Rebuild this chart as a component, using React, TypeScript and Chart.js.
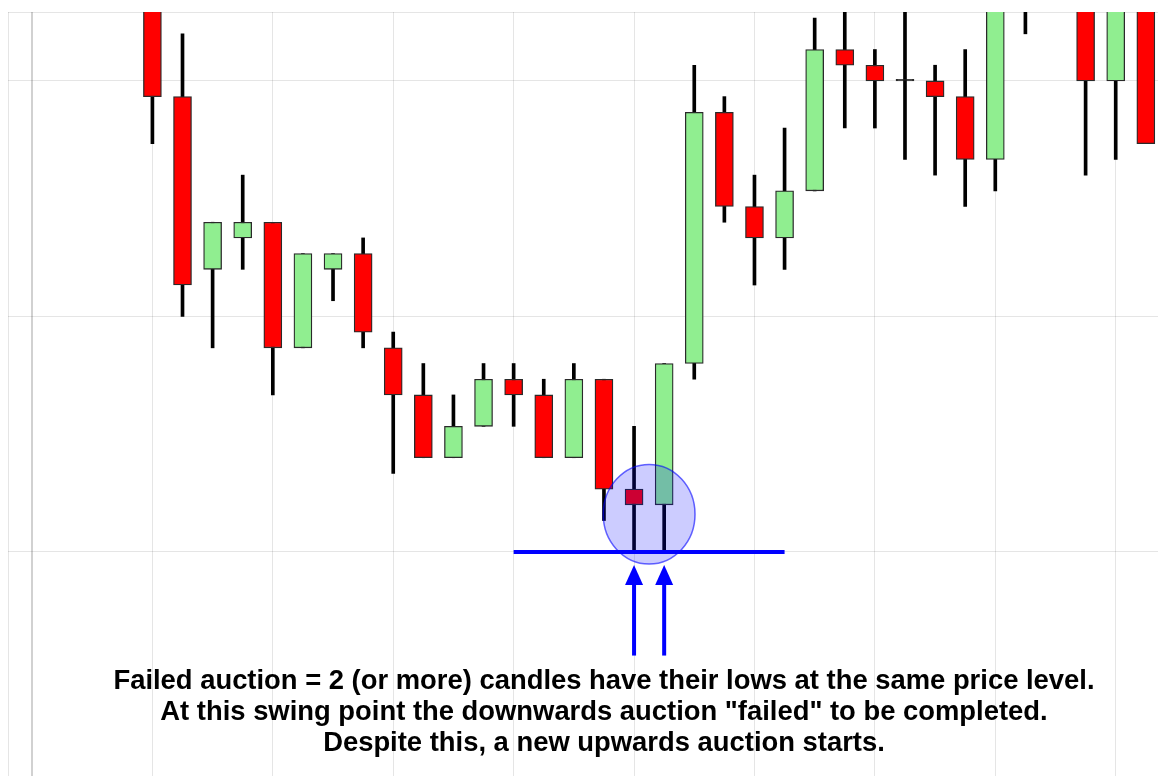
import React, { useEffect, useRef } from "react";
import { Chart, registerables } from "chart.js";

Chart.register(...registerables);

// ---- data (candle index, OHLC) ----
const FIRST_INDEX = 4;
const OPEN = [137, 129, 118, 120, 121, 113, 118, 119, 113, 110, 106, 108, 111, 110, 106, 111, 104, 103, 112, 128, 122, 120, 123, 132, 131, 130, 130, 129, 125, 136, 137, 137, 130, 137];
const HIGH = [138, 133, 121, 124, 121, 119, 119, 120, 114, 112, 110, 112, 112, 111, 112, 111, 108, 112, 131, 129, 124, 127, 134, 136, 132, 136, 131, 132, 138, 138, 139, 138, 138, 138];
const LOW = [126, 115, 113, 118, 110, 113, 116, 113, 105, 106, 106, 108, 108, 106, 106, 102, 100, 100, 111, 121, 117, 118, 123, 127, 127, 125, 124, 122, 123, 133, 135, 124, 125, 126];
const CLOSE = [129, 117, 121, 121, 113, 119, 119, 114, 110, 106, 108, 111, 110, 106, 111, 104, 103, 112, 128, 122, 120, 123, 132, 131, 130, 130, 129, 125, 137, 137, 136, 130, 137, 126];

// grid ticks
const X_GRID = [0, 4, 8, 12, 16, 20, 24, 28, 32, 36];
const Y_GRID = [100, 115, 130];

// visible window
const X_MIN = -0.797;
const X_MAX = 38.8;
const Y_MIN = 84.2;
const Y_MAX = 134.39;

// annotation
const SUPPORT_LEVEL = 100;
const SUPPORT_FROM = 16;
const SUPPORT_TO = 25;
const CIRCLE_CENTER = { x: 20.5, y: 102.4 };
const CIRCLE_RADIUS = { x: 1.525, y: 3.17 };
const ARROW_X = [20, 21];
const ARROW_TIP = 99.17;
const ARROW_HEAD_BASE = 97.9;
const ARROW_TAIL = 93.4;
const TEXT_X = 19;
const TEXT_FIRST_BASELINE = 91.27;
const TEXT_LINES = [
  "Failed auction = 2 (or more) candles have their lows at the same price level.",
  "At this swing point the downwards auction \"failed\" to be completed.",
  "Despite this, a new upwards auction starts.",
];

const RED = "#ff0000";
const GREEN = "#90ee90";
const BLUE = "#0000ff";

const annotationPlugin = {
  id: "failedAuction",
  afterDatasetsDraw(chart: any) {
    const { ctx } = chart;
    const xs = chart.scales.x;
    const ys = chart.scales.y;
    ctx.save();
    // support line
    ctx.strokeStyle = BLUE;
    ctx.lineWidth = 4;
    ctx.beginPath();
    const ly = ys.getPixelForValue(SUPPORT_LEVEL);
    ctx.moveTo(xs.getPixelForValue(SUPPORT_FROM), ly);
    ctx.lineTo(xs.getPixelForValue(SUPPORT_TO), ly);
    ctx.stroke();
    // circle
    const cx = xs.getPixelForValue(CIRCLE_CENTER.x);
    const cy = ys.getPixelForValue(CIRCLE_CENTER.y);
    const rx = Math.abs(xs.getPixelForValue(CIRCLE_CENTER.x + CIRCLE_RADIUS.x) - cx);
    const ry = Math.abs(ys.getPixelForValue(CIRCLE_CENTER.y + CIRCLE_RADIUS.y) - cy);
    ctx.beginPath();
    ctx.ellipse(cx, cy, rx, ry, 0, 0, Math.PI * 2);
    ctx.fillStyle = "rgba(0,0,255,0.2)";
    ctx.fill();
    ctx.strokeStyle = "rgba(0,0,255,0.6)";
    ctx.lineWidth = 1.5;
    ctx.stroke();
    // arrows
    ctx.fillStyle = BLUE;
    ctx.strokeStyle = BLUE;
    for (const ax of ARROW_X) {
      const px = xs.getPixelForValue(ax);
      const tip = ys.getPixelForValue(ARROW_TIP);
      const base = ys.getPixelForValue(ARROW_HEAD_BASE);
      const tail = ys.getPixelForValue(ARROW_TAIL);
      ctx.lineWidth = 4;
      ctx.beginPath();
      ctx.moveTo(px, base - 1);
      ctx.lineTo(px, tail);
      ctx.stroke();
      ctx.beginPath();
      ctx.moveTo(px, tip);
      ctx.lineTo(px - 9, base);
      ctx.lineTo(px + 9, base);
      ctx.closePath();
      ctx.fill();
    }
    // text
    ctx.fillStyle = "#000";
    ctx.font = 'bold 27.4px "Liberation Sans", Arial, sans-serif';
    ctx.textAlign = "center";
    ctx.textBaseline = "alphabetic";
    const tx = xs.getPixelForValue(TEXT_X);
    const ty = ys.getPixelForValue(TEXT_FIRST_BASELINE);
    TEXT_LINES.forEach((line, i) => ctx.fillText(line, tx, ty + i * 31));
    ctx.restore();
  },
};

export default function App() {
  const ref = useRef<HTMLCanvasElement | null>(null);
  useEffect(() => {
    if (!ref.current) return;
    const bodies = OPEN.map((o, i) => ({ x: i + FIRST_INDEX, y: [o, CLOSE[i]] }));
    const wicks = OPEN.map((_, i) => ({ x: i + FIRST_INDEX, y: [LOW[i], HIGH[i]] }));
    const bodyColors = OPEN.map((o, i) => (CLOSE[i] > o ? GREEN : CLOSE[i] < o ? RED : "#111"));
    const chart = new Chart(ref.current, {
      type: "bar",
      data: {
        datasets: [
          {
            label: "body",
            data: bodies as any,
            backgroundColor: bodyColors,
            borderColor: "#2a2a2a",
            borderWidth: 1.3,
            borderSkipped: false,
            barThickness: 18,
            minBarLength: 1.5,
            grouped: false,
            clip: 0,
          } as any,
          {
            label: "wick",
            data: wicks as any,
            backgroundColor: "#000",
            borderWidth: 0,
            barThickness: 3,
            grouped: false,
            clip: 0,
          } as any,
        ],
      },
      options: {
        animation: false,
        responsive: false,
        devicePixelRatio: 1,
        layout: { padding: { left: 8, top: 12, right: 0, bottom: 0 } },
        plugins: { legend: { display: false }, tooltip: { enabled: false } },
        scales: {
          x: {
            type: "linear",
            min: X_MIN,
            max: X_MAX,
            offset: false,
            afterBuildTicks: (axis: any) => {
              axis.ticks = [axis.min, ...X_GRID].map((v) => ({ value: v }));
            },
            ticks: { display: false },
            border: { display: false },
            grid: {
              offset: false,
              drawTicks: false,
              color: (c: any) => (c.tick && c.tick.value === 0 ? "rgba(0,0,0,0.18)" : "rgba(0,0,0,0.1)"),
              lineWidth: (c: any) => (c.tick && c.tick.value === 0 ? 2 : 1),
            },
          },
          y: {
            type: "linear",
            min: Y_MIN,
            max: Y_MAX,
            beginAtZero: false,
            afterBuildTicks: (axis: any) => {
              axis.ticks = [axis.max, ...Y_GRID].map((v) => ({ value: v }));
            },
            ticks: { display: false },
            border: { display: false },
            grid: { drawTicks: false, color: "rgba(0,0,0,0.1)" },
          },
        },
      } as any,
      plugins: [annotationPlugin],
    });
    return () => chart.destroy();
  }, []);
  return (
    <div
      style={{
        position: "fixed",
        left: 0,
        top: 0,
        width: 1158,
        height: 776,
        overflow: "hidden",
        background: "#fff",
      }}
    >
      <canvas ref={ref} width={1200} height={800} style={{ display: "block", width: 1200, height: 800 }} />
    </div>
  );
}
